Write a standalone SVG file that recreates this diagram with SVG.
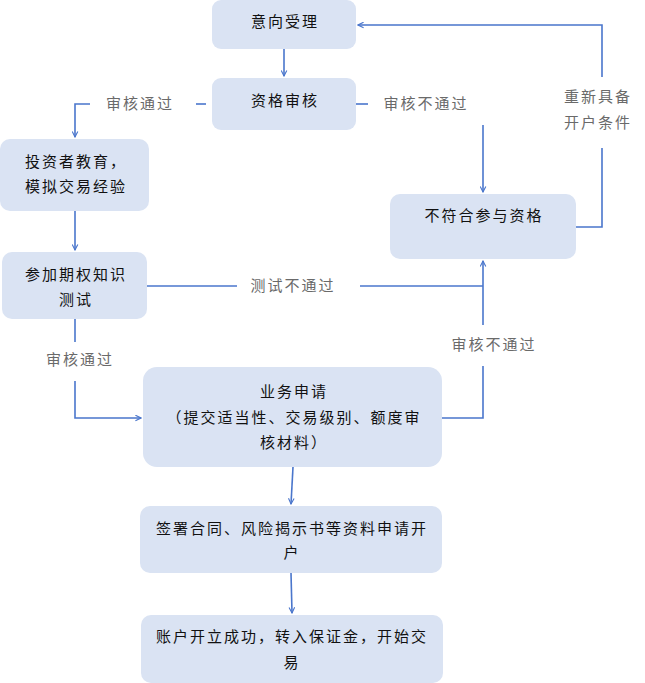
<svg xmlns="http://www.w3.org/2000/svg" width="645" height="683" viewBox="0 0 645 683">
<defs>
<style>
.box{fill:#dae3f3;}
.t{font-family:"Noto Sans CJK SC","Noto Sans",sans-serif;font-size:15px;fill:#111;text-anchor:middle;letter-spacing:2px;}
.l{font-family:"Noto Sans CJK SC","Noto Sans",sans-serif;font-size:15px;fill:#6a6a6a;text-anchor:middle;letter-spacing:2px;}
.c{fill:none;stroke:#4a76cc;stroke-width:1.6;}
</style>
<marker id="ah" viewBox="0 0 10 10" refX="9" refY="5" markerWidth="7" markerHeight="7" orient="auto" markerUnits="userSpaceOnUse">
<path d="M1,1 L9,5 L1,9" fill="none" stroke="#4a76cc" stroke-width="1.6"/>
</marker>
</defs>
<rect width="645" height="683" fill="#fff"/>
<g id="connectors">
<path class="c" d="M284,49 V76" marker-end="url(#ah)"/>
<path class="c" d="M196,104 H206"/>
<path class="c" d="M90,104 H75 V137" marker-end="url(#ah)"/>
<path class="c" d="M356,104 H368"/>
<path class="c" d="M483,125 V192" marker-end="url(#ah)"/>
<path class="c" d="M576,227 H602 V148"/>
<path class="c" d="M602,77 V25 H358" marker-end="url(#ah)"/>
<path class="c" d="M75,211 V250" marker-end="url(#ah)"/>
<path class="c" d="M147,286 H237"/>
<path class="c" d="M360,286 H483"/>
<path class="c" d="M483,325 V261" marker-end="url(#ah)"/>
<path class="c" d="M75,319 V342"/>
<path class="c" d="M75,381 V418 H141" marker-end="url(#ah)"/>
<path class="c" d="M442,418 H483 V366"/>
<path class="c" d="M293,467 L291,504" marker-end="url(#ah)"/>
<path class="c" d="M291,573 L292,613" marker-end="url(#ah)"/>
</g>
<g id="labels">
<text class="l" x="140" y="109">审核通过</text>
<text class="l" x="426" y="109">审核不通过</text>
<text class="l" x="598" y="102">重新具备</text>
<text class="l" x="598" y="128">开户条件</text>
<text class="l" x="293" y="291">测试不通过</text>
<text class="l" x="80" y="365">审核通过</text>
<text class="l" x="494" y="350">审核不通过</text>
</g>
<g id="n1"><rect class="box" x="212" y="0" width="144" height="49" rx="9"/><text class="t" x="285" y="27">意向受理</text></g>
<g id="n2"><rect class="box" x="212" y="78" width="144" height="52" rx="9"/><text class="t" x="285" y="106">资格审核</text></g>
<g id="n3"><rect class="box" x="0" y="139" width="149" height="72" rx="10"/><text class="t" x="76" y="167">投资者教育，</text><text class="t" x="76" y="192">模拟交易经验</text></g>
<g id="n4"><rect class="box" x="2" y="252" width="145" height="67" rx="10"/><text class="t" x="76" y="280">参加期权知识</text><text class="t" x="76" y="305">测试</text></g>
<g id="n5"><rect class="box" x="390" y="194" width="186" height="65" rx="10"/><text class="t" x="484" y="221">不符合参与资格</text></g>
<g id="n6"><rect class="box" x="143" y="367" width="299" height="100" rx="14"/><text class="t" x="294" y="397">业务申请</text><text class="t" x="294" y="423">（提交适当性、交易级别、额度审</text><text class="t" x="294" y="448">核材料）</text></g>
<g id="n7"><rect class="box" x="140" y="506" width="302" height="67" rx="10"/><text class="t" x="292" y="534">签署合同、风险揭示书等资料申请开</text><text class="t" x="292" y="558">户</text></g>
<g id="n8"><rect class="box" x="141" y="615" width="302" height="68" rx="10"/><text class="t" x="292" y="642">账户开立成功，转入保证金，开始交</text><text class="t" x="292" y="668">易</text></g>
</svg>
